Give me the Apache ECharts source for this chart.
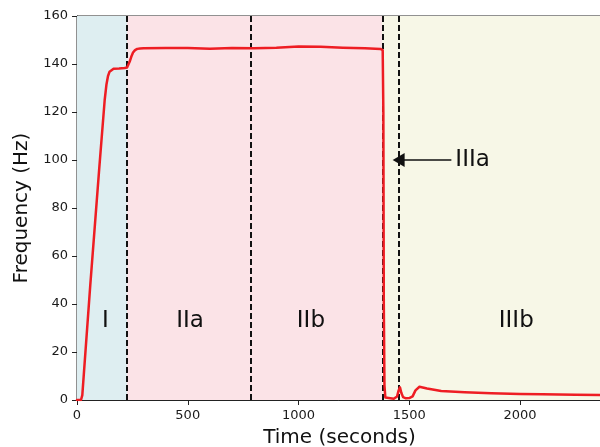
<!DOCTYPE html>
<html>
<head>
<meta charset="utf-8">
<script src="https://cdn.jsdelivr.net/npm/echarts@6/dist/echarts.min.js"></script>
<style>
  html, body { margin: 0; padding: 0; background: #fff; }
  #chart { width: 600px; height: 447px; }
</style>
</head>
<body>
<div id="chart"></div>
<script>
// frequency trace
const times = [0, 18, 24, 60, 100, 125, 133, 140, 147, 155, 165, 190, 215, 226, 232, 238, 245, 253, 262, 272, 285, 300, 400, 500, 600, 700, 800, 900, 1000, 1100, 1200, 1300, 1370, 1380, 1383, 1385, 1388, 1392, 1400, 1430, 1445, 1452, 1458, 1464, 1472, 1485, 1500, 1515, 1528, 1546, 1580, 1644, 1750, 1870, 2000, 2100, 2250, 2370];
const freqs = [0, 0, 2, 48, 96, 125, 131.5, 135, 136.8, 137.6, 138, 138.1, 138.3, 138.5, 139.3, 141, 143, 144.8, 145.8, 146.3, 146.5, 146.6, 146.7, 146.7, 146.4, 146.7, 146.6, 146.8, 147.3, 147.2, 146.8, 146.6, 146.3, 145.8, 120, 40, 6, 1, 0.4, 0.5, 1.5, 4, 5.3, 3, 1.2, 0.7, 0.8, 1.5, 4, 5.5, 4.8, 3.75, 3.2, 2.8, 2.5, 2.4, 2.2, 2.1];

// phase boundaries (dashed lines) and shaded phases
const boundaries = [226, 786, 1378, 1454];
const phases = [
  { from: 0, to: 226, color: '#deeef1' },
  { from: 226, to: 1378, color: '#fbe3e7' },
  { from: 1378, to: 2370, color: '#f7f7e7' }
];
const phaseLabels = ['I', 'IIa', 'IIb', 'IIIb'];
const phaseLabelX = [128, 510, 1056, 1983];
const phaseLabelY = 33;

// annotation arrow: line end sits at the triangle centre
const arrowFrom = [1690, 100];
const arrowTo = [1452, 100];
const arrowText = 'IIIa';

const xTicks = [0, 500, 1000, 1500, 2000];

const chart = echarts.init(document.getElementById('chart'));
const font = 'DejaVu Sans';

const option = {
  animation: false,
  textStyle: { fontFamily: font },
  grid: {
    left: 77, top: 16, right: -2, bottom: 47,
    outerBoundsMode: 'none',
    containLabel: false,
    show: true, borderColor: '#222', borderWidth: 1, backgroundColor: 'transparent'
  },
  xAxis: {
    type: 'value',
    min: 0, max: 2370, interval: 500,
    name: 'Time (seconds)',
    nameLocation: 'middle',
    nameGap: 28,
    nameTextStyle: { fontSize: 20, color: '#111', fontFamily: font },
    axisLine: { onZero: false, lineStyle: { color: '#222', width: 1 } },
    axisTick: { show: true, length: 5, lineStyle: { color: '#222' } },
    axisLabel: {
      fontSize: 13, color: '#1a1a1a', margin: 9, fontFamily: font,
      showMaxLabel: false,
      formatter: v => xTicks.includes(v) ? String(v) : ''
    },
    splitLine: { show: false }
  },
  yAxis: {
    type: 'value',
    min: 0, max: 160, interval: 20,
    name: 'Frequency (Hz)',
    nameLocation: 'middle',
    nameRotate: 90,
    nameGap: 34,
    nameTextStyle: { fontSize: 20, color: '#111', fontFamily: font },
    axisLine: { show: true, lineStyle: { color: '#222', width: 1 } },
    axisTick: { show: true, length: 5, lineStyle: { color: '#222' } },
    axisLabel: { fontSize: 13, color: '#1a1a1a', margin: 9, fontFamily: font },
    splitLine: { show: false }
  },
  series: [
    {
      type: 'line',
      data: times.map((t, i) => [t, freqs[i]]),
      showSymbol: false,
      z: 5,
      lineStyle: { color: '#ee1d23', width: 2.5, join: 'round', cap: 'round' },
      markArea: {
        silent: true,
        data: phases.map(p => [
          { xAxis: p.from, itemStyle: { color: p.color } },
          { xAxis: p.to }
        ])
      },
      markLine: {
        silent: true,
        symbol: 'none',
        label: { show: false },
        lineStyle: { color: '#111', type: [6, 3], width: 2 },
        data: boundaries.map(b => ({ xAxis: b }))
      }
    },
    {
      type: 'line',
      data: [],
      markLine: {
        silent: true,
        symbol: ['none', 'triangle'],
        symbolSize: [14, 12],
        lineStyle: { color: '#111', type: 'solid', width: 1.5 },
        label: { show: false },
        data: [[{ coord: arrowFrom }, { coord: arrowTo }]]
      },
      markPoint: {
        silent: true,
        symbol: 'circle',
        symbolSize: 0,
        data: [
          {
            coord: arrowFrom,
            label: {
              show: true, formatter: arrowText, position: 'right', distance: 4,
              fontSize: 23, color: '#111', fontFamily: font
            }
          }
        ].concat(phaseLabels.map((name, i) => ({
          coord: [phaseLabelX[i], phaseLabelY],
          label: {
            show: true, formatter: name, position: 'inside',
            fontSize: 23, color: '#111', fontFamily: font
          }
        })))
      }
    }
  ]
};

chart.setOption(option);
</script>
</body>
</html>
